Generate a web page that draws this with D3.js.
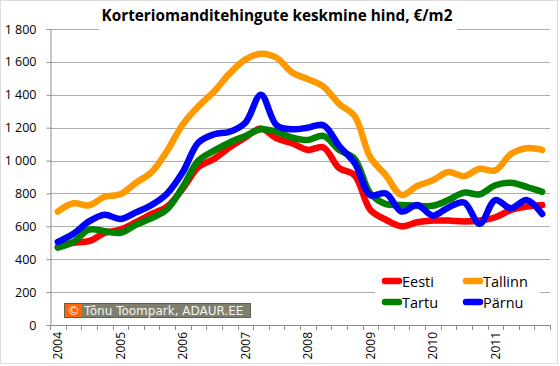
<!DOCTYPE html>
<html><head><meta charset="utf-8">
<title>Korteriomanditehingute keskmine hind</title>
<script src="https://cdn.jsdelivr.net/npm/d3@7"></script>
<style>
	body { margin: 0; background: #fff; }
	text { font-family: "Open Sans", "Liberation Sans", sans-serif; }
</style>
</head>
<body>
<svg id="chart" width="560" height="366"></svg>
<script>
	// quarterly categories 2004 I .. 2011 IV
	var years = ["2004", "2005", "2006", "2007", "2008", "2009", "2010", "2011"];
	var quarters = [];
	years.forEach(function(yr) { for (var q = 1; q <= 4; q++) quarters.push(yr + "-" + q); });

	// average price, EUR/m2
	var eesti   = [475, 500, 510, 560, 580, 625, 675, 720, 830, 960, 1010, 1080, 1140, 1195, 1135, 1105,
	               1065, 1080, 955, 910, 700, 640, 600, 625, 635, 635, 630, 635, 655, 700, 720, 730];
	var tallinn = [690, 740, 728, 780, 795, 865, 930, 1060, 1220, 1330, 1420, 1530, 1615, 1650, 1625, 1535,
	               1495, 1450, 1345, 1270, 1020, 910, 790, 845, 880, 930, 905, 950, 940, 1040, 1075, 1065];
	var tartu   = [470, 505, 580, 570, 560, 610, 650, 705, 840, 1000, 1060, 1110, 1150, 1190, 1175, 1140,
	               1125, 1150, 1065, 1010, 800, 735, 730, 725, 725, 760, 805, 795, 850, 865, 840, 810];
	var parnu   = [505, 555, 630, 670, 645, 685, 730, 800, 930, 1110, 1160, 1175, 1230, 1400, 1215, 1190,
	               1200, 1215, 1090, 985, 790, 800, 690, 730, 665, 715, 745, 615, 760, 710, 760, 675];

	var seriesNames  = ["Eesti", "Tallinn", "Tartu", "Pärnu"];
	var seriesColors = ["#ff0000", "#ff9900", "#008000", "#0000ff"];
	var seriesData   = [eesti, tallinn, tartu, parnu];
	var yTicks = [0, 200, 400, 600, 800, 1000, 1200, 1400, 1600, 1800];

	var svg = d3.select("#chart");

	// chart border
	svg.append("rect").attr("x", 0.5).attr("y", 0.5).attr("width", 557).attr("height", 363)
		.attr("fill", "#fff").attr("stroke", "#bbb").attr("stroke-dasharray", "1,1");

	var x = d3.scaleBand().domain(quarters).range([50, 550]);
	var y = d3.scaleLinear().domain([0, 1800]).range([325, 29]);

	// gridlines
	svg.append("g").selectAll("line").data(yTicks.slice(1)).enter().append("line")
		.attr("x1", 50).attr("x2", 550)
		.attr("y1", function(d) { return Math.round(y(d)) + 0.5; })
		.attr("y2", function(d) { return Math.round(y(d)) + 0.5; })
		.attr("stroke", "#adadad");

	// y axis
	var yAxis = svg.append("g").attr("transform", "translate(50.5,0)")
		.call(d3.axisLeft(y).tickValues(yTicks).tickSize(4).tickPadding(10)
			.tickFormat(function(d) { return d3.format(",")(d).replace(",", " "); }));
	yAxis.select(".domain").attr("stroke", "#8c8c8c");
	yAxis.selectAll(".tick line").attr("stroke", "#8c8c8c");
	yAxis.selectAll("text").attr("font-size", 12.5).attr("fill", "#000")
		.style("font-family", "'Open Sans', sans-serif");

	// x axis: ticks between categories, year labels on first quarter
	var xg = svg.append("g");
	xg.append("line").attr("x1", 50).attr("x2", 550).attr("y1", 325.5).attr("y2", 325.5).attr("stroke", "#8c8c8c");
	xg.selectAll(".xt").data(quarters.concat(["end"])).enter().append("line")
		.attr("x1", function(d, i) { return Math.round(50 + i * x.step()) + 0.5; })
		.attr("x2", function(d, i) { return Math.round(50 + i * x.step()) + 0.5; })
		.attr("y1", 325).attr("y2", 330).attr("stroke", "#8c8c8c");
	xg.selectAll(".xl").data(quarters.filter(function(q) { return /-1$/.test(q); })).enter().append("text")
		.attr("transform", function(d) {
			return "translate(" + (x(d) + x.bandwidth() / 2 + 4.5) + ",332) rotate(-90)";
		})
		.attr("text-anchor", "end").attr("font-size", 12).text(function(d) { return d.split("-")[0]; });

	// lines
	var line = d3.line()
		.x(function(d, i) { return x(quarters[i]) + x.bandwidth() / 2; })
		.y(function(d) { return y(d); })
		.curve(d3.curveCatmullRom.alpha(0.5));

	var order = [0, 1, 2, 3];
	svg.append("g").selectAll("path").data(order).enter().append("path")
		.attr("d", function(k) { return line(seriesData[k]); })
		.attr("fill", "none")
		.attr("stroke", function(k) { return seriesColors[k]; })
		.attr("stroke-width", 6.5)
		.attr("stroke-linecap", "round").attr("stroke-linejoin", "round");

	// title
	svg.append("rect").attr("x", 99).attr("y", 22).attr("width", 358).attr("height", 14).attr("fill", "#fff");
	svg.append("text").attr("x", 277).attr("y", 21).attr("text-anchor", "middle")
		.attr("font-size", 15.3).attr("font-weight", "bold")
		.text("Korteriomanditehingute keskmine hind, €/m2");

	// legend
	var legend = svg.append("g");
	legend.append("rect").attr("x", 375).attr("y", 268).attr("width", 165).attr("height", 48).attr("fill", "#fff");
	var legPos = [[382, 281], [463, 281], [382, 302], [463, 302]];
	seriesNames.forEach(function(name, k) {
		var p = legPos[k];
		legend.append("line").attr("x1", p[0] + 3).attr("x2", p[0] + 17).attr("y1", p[1]).attr("y2", p[1])
			.attr("stroke", seriesColors[k]).attr("stroke-width", 6.5).attr("stroke-linecap", "round");
		legend.append("text").attr("x", p[0] + 20).attr("y", p[1] + 5.5)
			.attr("font-size", 14.5).text(name);
	});

	// copyright box
	var cp = svg.append("g");
	cp.append("rect").attr("x", 64.5).attr("y", 303.5).attr("width", 186).attr("height", 14)
		.attr("fill", "#7f7f6f").attr("stroke", "#5f5f55");
	cp.append("rect").attr("x", 65).attr("y", 304).attr("width", 17).attr("height", 13).attr("fill", "#ff6600");
	cp.append("text").attr("x", 73.5).attr("y", 315).attr("text-anchor", "middle").attr("fill", "#fff")
		.attr("font-size", 12).style("font-family", "'DejaVu Sans', sans-serif").text("©");
	cp.append("text").attr("x", 84).attr("y", 315).attr("fill", "#f4f4f0")
		.attr("font-size", 12).style("font-family", "'DejaVu Sans', sans-serif").text("Tõnu Toompark, ADAUR.EE");
</script>
</body></html>
